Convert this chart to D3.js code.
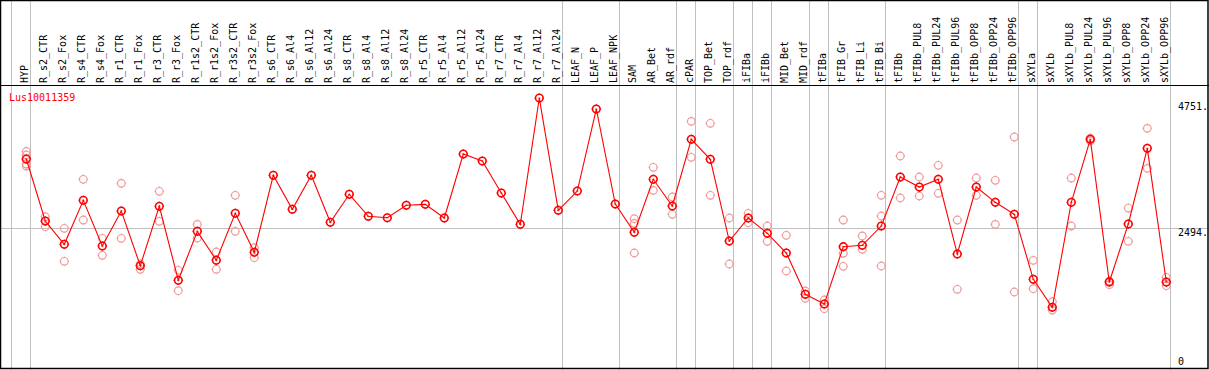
<!DOCTYPE html>
<html><head><meta charset="utf-8">
<script src="https://cdn.jsdelivr.net/npm/d3@7"></script>
<style>body{margin:0;background:#fff}svg{display:block}text{font-family:"DejaVu Sans Mono",monospace;font-size:10px}</style>
</head><body>
<script>
const title = "Lus10011359";
const categories = ["HYP","R_s2_CTR","R_s2_Fox","R_s4_CTR","R_s4_Fox","R_r1_CTR","R_r1_Fox","R_r3_CTR","R_r3_Fox","R_r1s2_CTR","R_r1s2_Fox","R_r3s2_CTR","R_r3s2_Fox","R_s6_CTR","R_s6_Al4","R_s6_Al12","R_s6_Al24","R_s8_CTR","R_s8_Al4","R_s8_Al12","R_s8_Al24","R_r5_CTR","R_r5_Al4","R_r5_Al12","R_r5_Al24","R_r7_CTR","R_r7_Al4","R_r7_Al12","R_r7_Al24","LEAF_N","LEAF_P","LEAF_NPK","SAM","AR_Bet","AR_rdf","cPAR","TOP_Bet","TOP_rdf","iFIBa","iFIBb","MID_Bet","MID_rdf","tFIBa","tFIB_Gr","tFIB_Li","tFIB_Bi","tFIBb","tFIBb_PUL8","tFIBb_PUL24","tFIBb_PUL96","tFIBb_OPP8","tFIBb_OPP24","tFIBb_OPP96","sXYLa","sXYLb","sXYLb_PUL8","sXYLb_PUL24","sXYLb_PUL96","sXYLb_OPP8","sXYLb_OPP24","sXYLb_OPP96"];
const meanValues = [3731,2624,2208,2994,2178,2803,1826,2887,1566,2440,1923,2762,2066,3440,2833,3440,2601,3101,2708,2683,2905,2922,2678,3821,3696,3124,2565,4820,2815,3160,4624,2928,2423,3369,2892,4083,3726,2267,2678,2405,2053,1316,1143,2166,2191,2535,3410,3231,3369,2035,3231,2958,2744,1584,1084,2958,4083,1535,2571,3922,1535];
const replicateValues = [
 [3865,3803,3642,3606],[2701,2523],[2494,1905],[3369,2642],[2316,2012],[3297,2316],[1857,1762],[3155,2619],[1744,1380],[2565,2321],[2071,1762],[3083,2440],[2148,1969],
 [],[],[],[],[],[],[],[],[],[],[],[],[],[],[],[],[],[],[],
 [2665,2583,2053],[3583,3172],[3053,2744],[4404,3762],[4369,3083],[2678,1857],[2762,2594],[2535,2262],[2369,1732],[1375,1244],[1214,1059],[2642,2048,1816],[2357,2119],[3083,2714,1821],
 [3785,3035],[3410,3071],[3619,3119],[2642,1405],[3392,3083],[3351,2565],[4124,1357],[1923,1416],[1184,1035],[3392,2535],[4106,4053],[1553,1487],[2856,2262],[4279,3565],[1619,1469]
];
const axisTicks = [4751, 2494, 0];
const axisTickLabels = ["4751.", "2494.", "0"];
const groupEnds = [-1,0,28,31,34,35,37,38,39,41,42,45,52,53,60];

const W = 1209, H = 370;
const svg = d3.select("body").append("svg").attr("width", W).attr("height", H);
const x = d3.scalePoint().domain(categories).range([26.3, 1166.3]);
const step = x.step();
const y = d3.scaleLinear().domain([0, 4751]).range([368, 101.9]);

// vertical group separators
svg.append("g").selectAll("line").data(groupEnds).join("line")
  .attr("x1", d => Math.round(26.3 + d*step + 4) + 0.5)
  .attr("x2", d => Math.round(26.3 + d*step + 4) + 0.5)
  .attr("y1", 0).attr("y2", H)
  .attr("stroke", "#c0c0c0").attr("stroke-width", 1);

// horizontal grid at middle tick
svg.append("line").attr("x1", 0).attr("x2", W)
  .attr("y1", Math.round(y(2494)) + 0.5).attr("y2", Math.round(y(2494)) + 0.5)
  .attr("stroke", "#c0c0c0");

// frame
svg.append("rect").attr("x", 0.5).attr("y", 0.5).attr("width", W - 1.5).attr("height", H - 2)
  .attr("fill", "none").attr("stroke", "#000").attr("stroke-width", 1.5);
svg.append("line").attr("x1", 0).attr("x2", W).attr("y1", 85.5).attr("y2", 85.5).attr("stroke", "#000").attr("stroke-width", 1.2);

// header labels
svg.append("g").selectAll("text").data(categories).join("text")
  .attr("transform", d => `translate(${x(d) + 2},83) rotate(-90)`)
  .attr("fill", "#000").text(d => d);

// right axis labels
svg.append("g").selectAll("text").data(axisTicks).join("text")
  .attr("x", 1178).attr("y", (d, i) => i === 2 ? 365 : y(d) + 8)
  .attr("fill", "#000").text((d, i) => axisTickLabels[i]);

// title
svg.append("text").attr("x", 9).attr("y", 101).attr("fill", "#ff0000").attr("font-size", "11px").text(title);

function marker(g, cx, cy, color, sw) {
  g.append("circle").attr("cx", cx).attr("cy", cy).attr("r", 3.8)
    .attr("fill", "none").attr("stroke", color).attr("stroke-width", sw);
  const t = [[0,-4.8,0,-3.8],[0,3.8,0,4.8],[-4.8,0,-3.8,0],[3.8,0,4.8,0]];
  t.forEach(s => g.append("line").attr("x1", cx+s[0]).attr("y1", cy+s[1]).attr("x2", cx+s[2]).attr("y2", cy+s[3])
    .attr("stroke", color).attr("stroke-width", 1));
}

// replicates
const rep = svg.append("g");
replicateValues.forEach((arr, i) => arr.forEach(v => marker(rep, x(categories[i]), y(v), "#f09a9a", 1.2)));

// mean line
svg.append("path").datum(meanValues)
  .attr("d", d3.line().x((d, i) => x(categories[i])).y(d => y(d)))
  .attr("fill", "none").attr("stroke", "#ff0000").attr("stroke-width", 1.1);

const mg = svg.append("g");
meanValues.forEach((v, i) => {
  marker(mg, x(categories[i]), y(v), "#ff0000", 1.6);
  mg.append("line").attr("x1", x(categories[i])-1).attr("x2", x(categories[i])+1)
    .attr("y1", y(v)).attr("y2", y(v)).attr("stroke", "#ff0000").attr("stroke-width", 1);
});
</script>
</body></html>
